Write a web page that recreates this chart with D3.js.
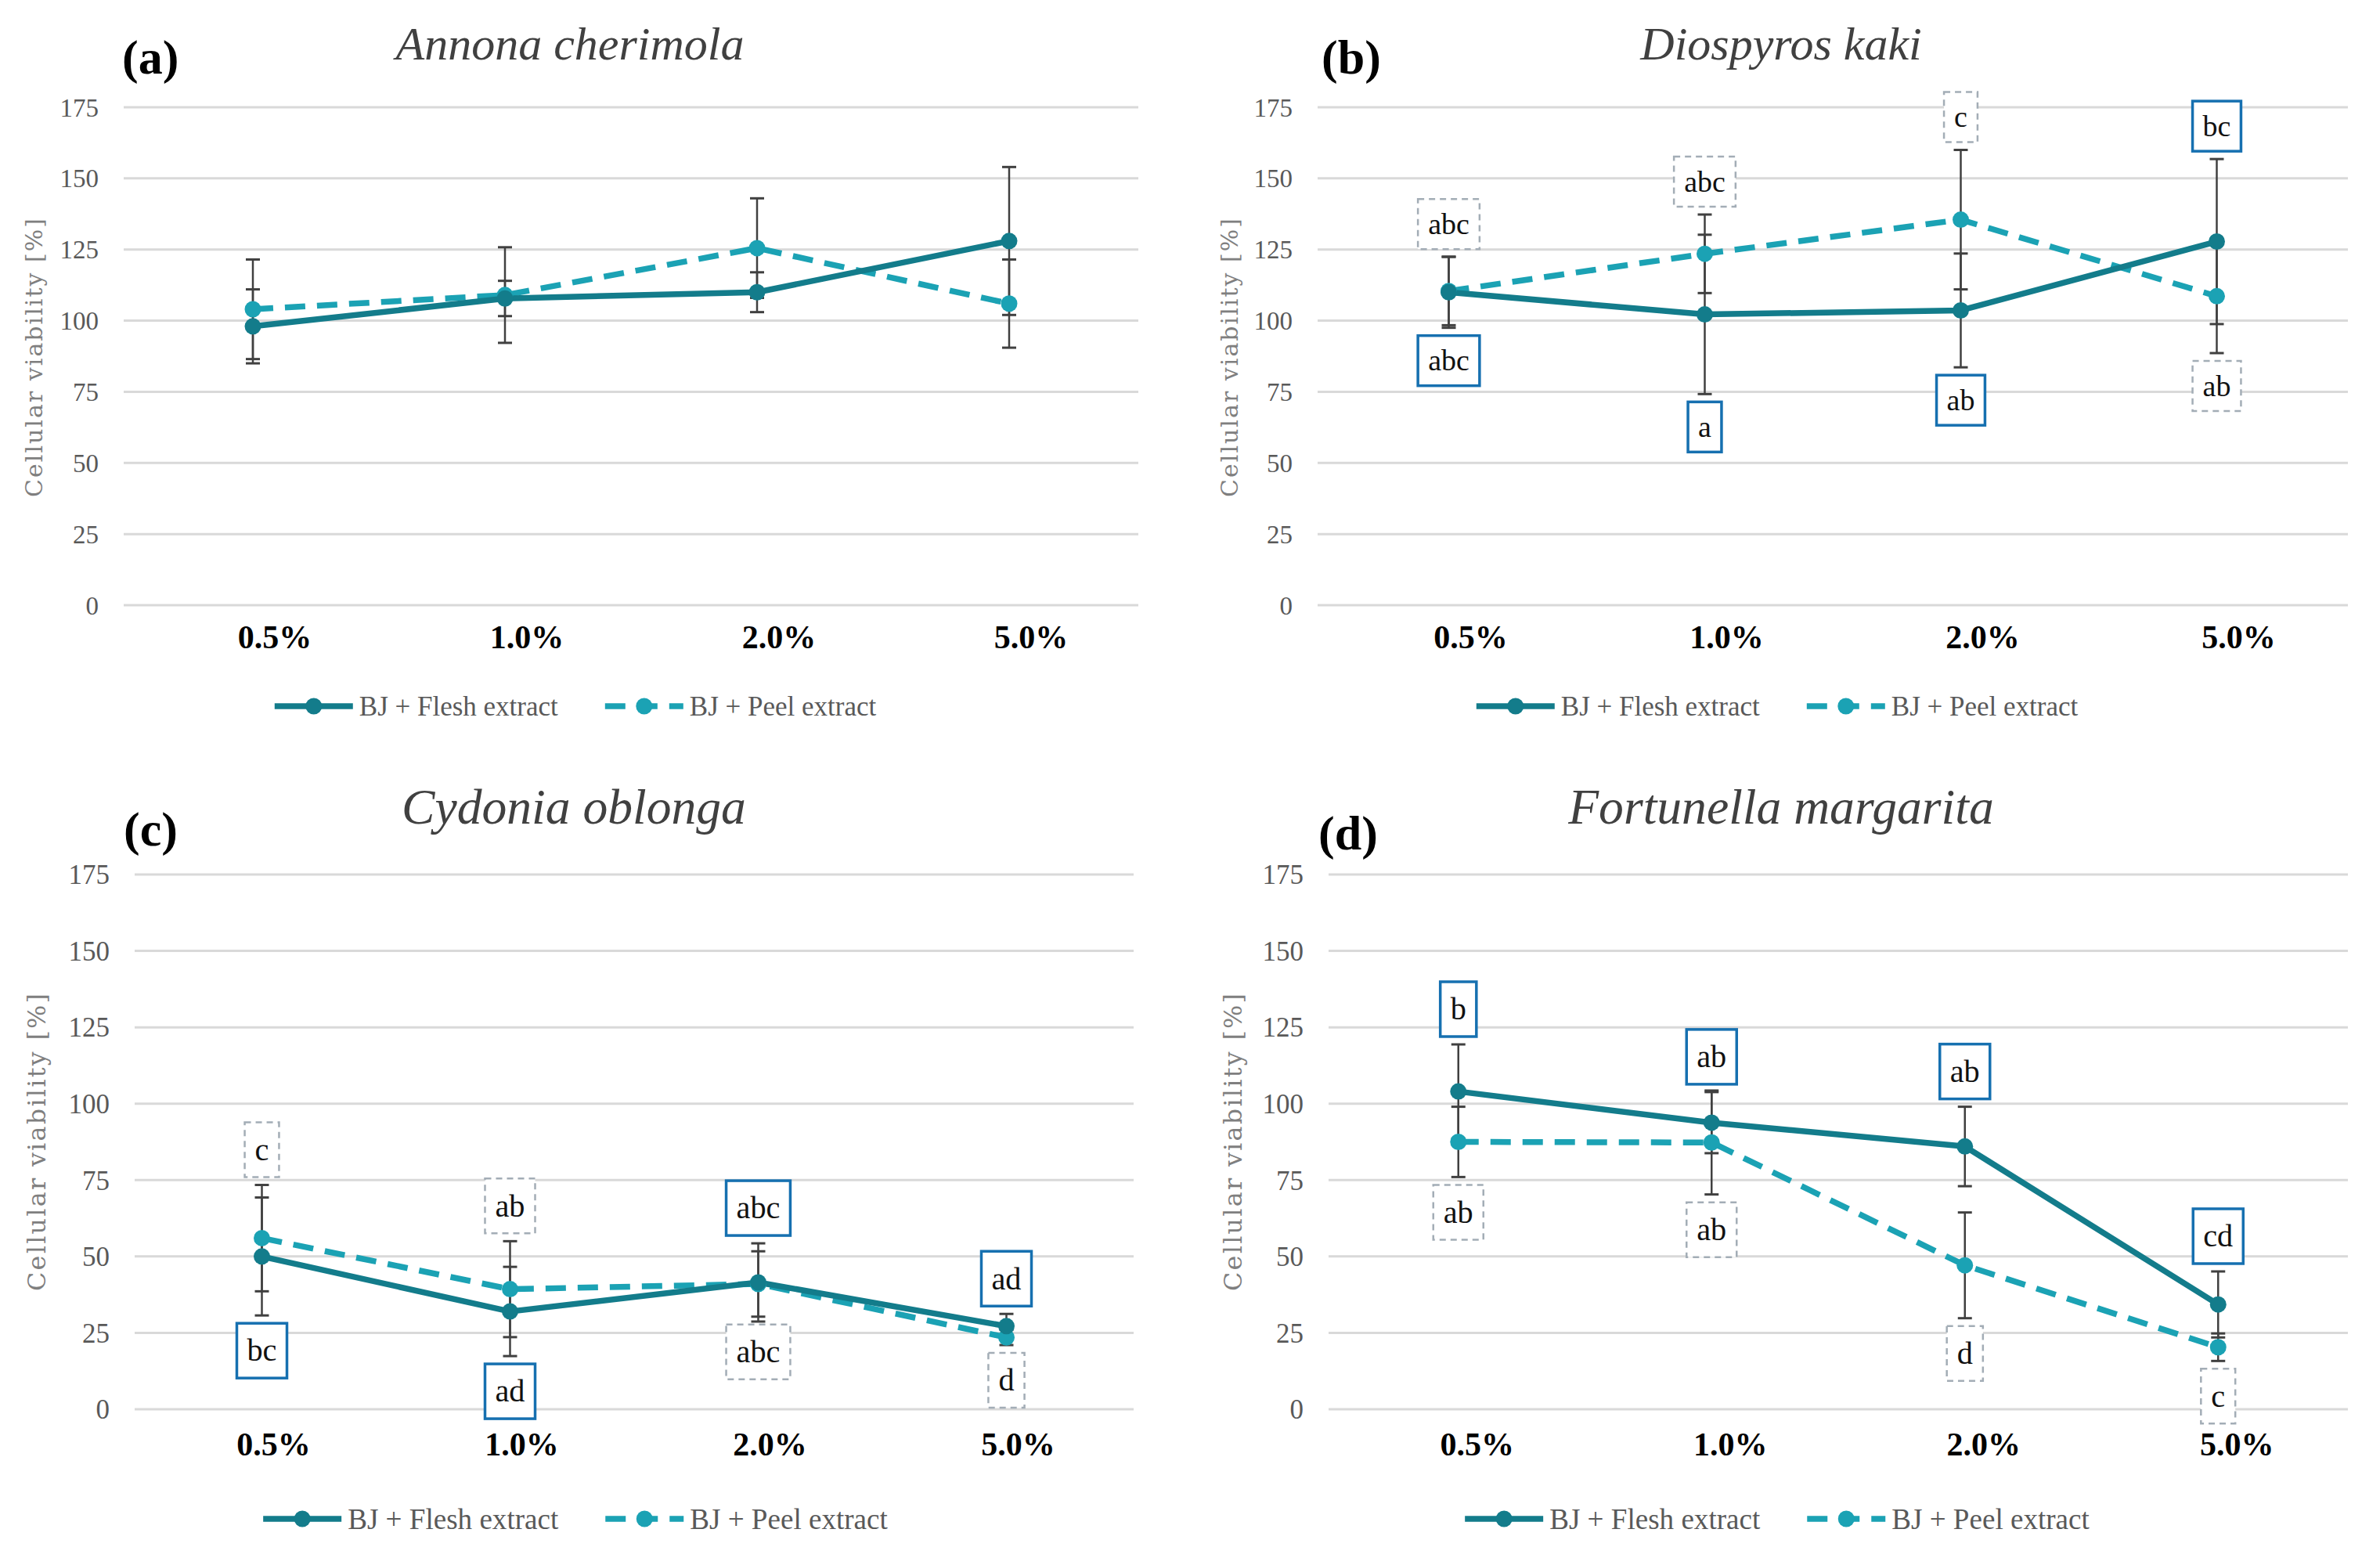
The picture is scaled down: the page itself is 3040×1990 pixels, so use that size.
<!DOCTYPE html>
<html>
<head>
<meta charset="utf-8">
<script src="https://cdn.jsdelivr.net/npm/d3@7/dist/d3.min.js"></script>
<style>
  html, body { margin: 0; padding: 0; background: #ffffff; }
  svg { display: block; }
</style>
</head>
<body>
<svg id="chart" width="3040" height="1990"></svg>
<script>
// ---------------- DATA ----------------
const categories = ["0.5%", "1.0%", "2.0%", "5.0%"];
const yTicks = [0, 25, 50, 75, 100, 125, 150, 175];
const panelTags = ["(a)", "(b)", "(c)", "(d)"];
const speciesNames = ["Annona cherimola", "Diospyros kaki", "Cydonia oblonga", "Fortunella margarita"];
const seriesNames = ["BJ + Flesh extract", "BJ + Peel extract"];
const yAxisTitle = "Cellular viability [%]";

// (a) Annona cherimola
const fleshA = [98, 107.8, 110, 128];
const fleshAErr = [13, 6.2, 7, 26];
const peelA = [104, 109, 125.5, 106];
const peelAErr = [17.5, 16.8, 17.5, 15.5];
const fleshALetters = [];
const peelALetters = [];

// (b) Diospyros kaki
const fleshB = [110, 102.2, 103.6, 127.8];
const fleshBErr = [12.5, 28, 20, 29];
const peelB = [110.4, 123.5, 135.5, 108.6];
const peelBErr = [12, 13.8, 24.5, 20];
const fleshBLetters = ["abc", "a", "ab", "bc"];
const peelBLetters = ["abc", "abc", "c", "ab"];

// (c) Cydonia oblonga
const fleshC = [50, 32, 41.5, 27.2];
const fleshCErr = [19.3, 14.6, 12.8, 4];
const peelC = [56, 39.3, 41, 23.5];
const peelCErr = [17.4, 15.7, 10.7, 2.5];
const fleshCLetters = ["bc", "ad", "abc", "ad"];
const peelCLetters = ["c", "ab", "abc", "d"];

// (d) Fortunella margarita
const fleshD = [104, 93.8, 86, 34.3];
const fleshDErr = [15.4, 10, 13, 10.8];
const peelD = [87.5, 87.3, 47.1, 20.3];
const peelDErr = [11.5, 17, 17.3, 4.5];
const fleshDLetters = ["b", "ab", "ab", "cd"];
const peelDLetters = ["ab", "ab", "d", "c"];

const panelData = [
  {flesh: fleshA, fleshErr: fleshAErr, peel: peelA, peelErr: peelAErr, fl: fleshALetters, pl: peelALetters},
  {flesh: fleshB, fleshErr: fleshBErr, peel: peelB, peelErr: peelBErr, fl: fleshBLetters, pl: peelBLetters},
  {flesh: fleshC, fleshErr: fleshCErr, peel: peelC, peelErr: peelCErr, fl: fleshCLetters, pl: peelCLetters},
  {flesh: fleshD, fleshErr: fleshDErr, peel: peelD, peelErr: peelDErr, fl: fleshDLetters, pl: peelDLetters}
];

// ---------------- LAYOUT / STYLE ----------------
const layouts = [
  {x0: 162, x1: 1450, yT: 137, yB: 773, tagX: 156, tagY: 94, titleX: 728, titleY: 76, ytX: 43, ytY: 457, ytLen: 356, legY: 902, legCx: 735, fs: 1, boxH: 64, xlabY: 828, xlabOff: 28},
  {x0: 1687, x1: 2995, yT: 137, yB: 773, tagX: 1688, tagY: 94, titleX: 2275, titleY: 76, ytX: 1570, ytY: 457, ytLen: 356, legY: 902, legCx: 2270, fs: 1, boxH: 64, xlabY: 828, xlabOff: 28},
  {x0: 176, x1: 1444, yT: 1117, yB: 1800, tagX: 158, tagY: 1080, titleX: 733, titleY: 1052, ytX: 47, ytY: 1459, ytLen: 380, legY: 1940, legCx: 735, fs: 1.06, boxH: 70, xlabY: 1859, xlabOff: 15},
  {x0: 1701, x1: 2995, yT: 1117, yB: 1800, tagX: 1684, tagY: 1085, titleX: 2275, titleY: 1052, ytX: 1575, ytY: 1459, ytLen: 380, legY: 1940, legCx: 2270, fs: 1.06, boxH: 70, xlabY: 1859, xlabOff: 24}
];
const fleshColor = "#137c8b";
const peelColor = "#1ba2b4";
const errColor = "#404040";
const gridColor = "#d9d9d9";
const solidBoxColor = "#1670b0";
const dashBoxColor = "#a3adb6";

const svg = d3.select("#chart");
svg.append("rect").attr("width", 3040).attr("height", 1990).attr("fill", "#ffffff");

layouts.forEach((L, pi) => {
  const D = panelData[pi];
  const g = svg.append("g");
  const y = d3.scaleLinear().domain([0, 175]).range([L.yB, L.yT]);
  const x = d3.scaleBand().domain(categories).range([L.x0, L.x1]);
  const cx = c => x(c) + x.bandwidth() / 2;

  // gridlines
  g.selectAll(".grid").data(yTicks).join("line")
    .attr("x1", L.x0 - 4).attr("x2", L.x1 + 4)
    .attr("y1", d => y(d)).attr("y2", d => y(d))
    .attr("stroke", gridColor).attr("stroke-width", 3);

  // y tick labels
  g.selectAll(".ytl").data(yTicks).join("text")
    .attr("x", L.x0 - 36).attr("y", d => y(d)).attr("dy", "0.35em")
    .attr("text-anchor", "end")
    .attr("font-family", "Liberation Serif").attr("font-size", 33 * L.fs)
    .attr("fill", "#595959").text(d => d);

  // x tick labels
  g.selectAll(".xtl").data(categories).join("text")
    .attr("x", d => cx(d) + L.xlabOff).attr("y", L.xlabY)
    .attr("text-anchor", "middle")
    .attr("font-family", "Liberation Serif").attr("font-weight", "bold")
    .attr("font-size", 42).attr("fill", "#000").text(d => d);

  // y axis title
  g.append("text")
    .attr("transform", `translate(${L.ytX},${L.ytY}) rotate(-90)`)
    .attr("text-anchor", "middle").attr("dy", "0.35em")
    .attr("font-family", "DejaVu Serif").attr("font-size", 30 * L.fs)
    .attr("fill", "#7f7f7f")
    .attr("textLength", L.ytLen).attr("lengthAdjust", "spacing")
    .text(yAxisTitle);

  // tag and title
  g.append("text").attr("x", L.tagX).attr("y", L.tagY)
    .attr("font-family", "Liberation Serif").attr("font-weight", "bold")
    .attr("font-size", 62).attr("fill", "#000").text(panelTags[pi]);
  g.append("text").attr("x", L.titleX).attr("y", L.titleY)
    .attr("text-anchor", "middle")
    .attr("font-family", "Liberation Serif").attr("font-style", "italic")
    .attr("font-size", 60 * L.fs).attr("fill", "#404040").text(speciesNames[pi]);

  const series = [
    {vals: D.peel, err: D.peelErr, letters: D.pl, color: peelColor, dash: "26,15", box: "dash"},
    {vals: D.flesh, err: D.fleshErr, letters: D.fl, color: fleshColor, dash: null, box: "solid"}
  ];
  const line = d3.line().x(d => cx(d.c)).y(d => y(d.v));

  // lines
  series.forEach(s => {
    const pts = categories.map((c, i) => ({c, v: s.vals[i]}));
    g.append("path").datum(pts).attr("d", line)
      .attr("fill", "none").attr("stroke", s.color).attr("stroke-width", 7.5)
      .attr("stroke-linejoin", "round")
      .attr("stroke-dasharray", s.dash);
  });
  // error bars
  series.forEach(s => {
    categories.forEach((c, i) => {
      const xc = cx(c), hi = y(s.vals[i] + s.err[i]), lo = y(s.vals[i] - s.err[i]);
      g.append("line").attr("x1", xc).attr("x2", xc).attr("y1", hi).attr("y2", lo)
        .attr("stroke", errColor).attr("stroke-width", 2.5);
      [hi, lo].forEach(yy => g.append("line").attr("x1", xc - 9).attr("x2", xc + 9)
        .attr("y1", yy).attr("y2", yy).attr("stroke", errColor).attr("stroke-width", 3));
    });
  });
  // markers
  series.forEach(s => {
    g.selectAll(null).data(categories).join("circle")
      .attr("cx", d => cx(d)).attr("cy", (d, i) => y(s.vals[i]))
      .attr("r", 10.5).attr("fill", s.color);
  });

  // significance letters: the higher series gets its label above, the lower one below
  series.forEach((s, si) => {
    const other = series[1 - si];
    s.letters.forEach((txt, i) => {
      const above = s.vals[i] > other.vals[i];
      const xc = cx(categories[i]);
      const gap = 10;
      let top;
      if (above) top = y(s.vals[i] + s.err[i]) - gap - L.boxH;
      else top = y(s.vals[i] - s.err[i]) + gap;
      const t = g.append("text").attr("x", xc).attr("y", top + L.boxH / 2).attr("dy", "0.33em")
        .attr("text-anchor", "middle").attr("font-family", "Liberation Serif")
        .attr("font-size", 38 * L.fs).attr("fill", "#111").text(txt);
      const w = t.node().getComputedTextLength() + 26;
      g.insert("rect", () => t.node())
        .attr("x", xc - w / 2).attr("y", top).attr("width", w).attr("height", L.boxH)
        .attr("fill", "#ffffff")
        .attr("stroke", s.box === "solid" ? solidBoxColor : dashBoxColor)
        .attr("stroke-width", s.box === "solid" ? 3.5 : 2.5)
        .attr("stroke-dasharray", s.box === "solid" ? null : "8,6");
    });
  });

  // legend
  const lg = g.append("g");
  const legItems = [
    {name: seriesNames[0], color: fleshColor, dash: null},
    {name: seriesNames[1], color: peelColor, dash: "26,15"}
  ];
  let cursor = 0;
  legItems.forEach((it, k) => {
    if (k > 0) cursor += 60;
    const lineLen = 100;
    lg.append("line").attr("x1", cursor).attr("x2", cursor + lineLen)
      .attr("y1", 0).attr("y2", 0).attr("stroke", it.color).attr("stroke-width", 7.5)
      .attr("stroke-dasharray", it.dash);
    lg.append("circle").attr("cx", cursor + lineLen / 2).attr("cy", 0).attr("r", 10.5).attr("fill", it.color);
    cursor += lineLen + 8;
    const t = lg.append("text").attr("x", cursor).attr("y", 0).attr("dy", "0.35em")
      .attr("font-family", "Liberation Serif").attr("font-size", 35 * L.fs)
      .attr("fill", "#595959").text(it.name);
    cursor += t.node().getComputedTextLength();
  });
  lg.attr("transform", `translate(${L.legCx - cursor / 2},${L.legY})`);
});
</script>
</body>
</html>
